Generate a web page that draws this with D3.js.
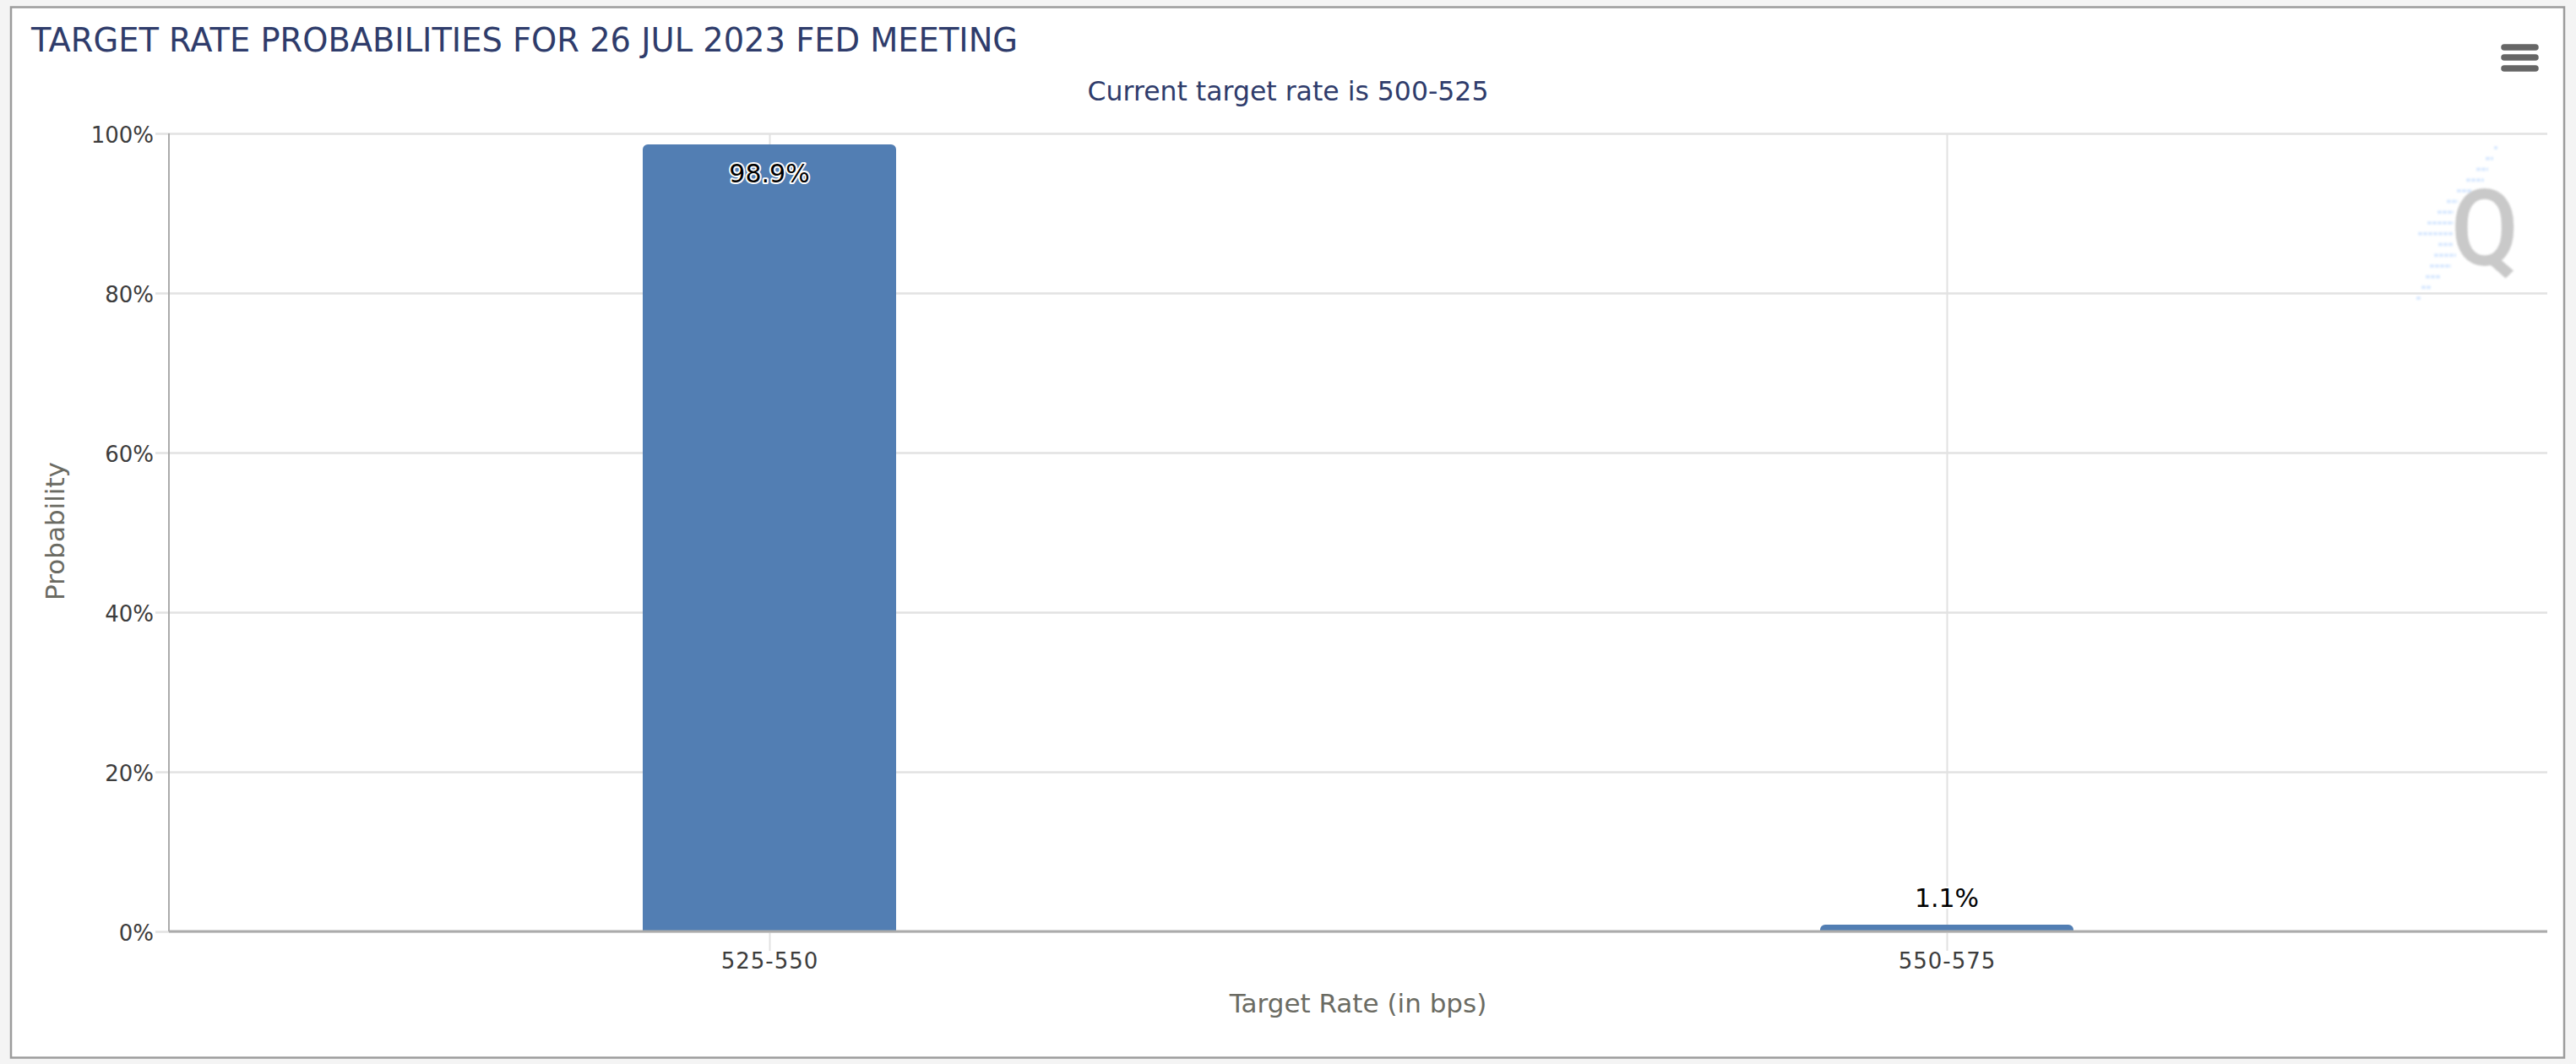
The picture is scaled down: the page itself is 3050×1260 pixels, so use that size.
<!DOCTYPE html>
<html>
<head>
<meta charset="utf-8">
<title>Target rate probabilities</title>
<script src="https://cdn.jsdelivr.net/npm/d3@7"></script>
<style>
	body { margin: 0; background: #f4f4f4; }
	svg { display: block; }
	text { font-family: "DejaVu Sans", sans-serif; }
</style>
</head>
<body>
<svg class="chart" width="3050" height="1260"></svg>
<script>
// values
var categories = ["525-550", "550-575"];
var probabilities = [98.9, 1.1];
var valueLabels = ["98.9%", "1.1%"];
var yTicks = [0, 20, 40, 60, 80, 100];

var titleText = "TARGET RATE PROBABILITIES FOR 26 JUL 2023 FED MEETING",
	subtitleText = "Current target rate is 500-525",
	xTitleText = "Target Rate (in bps)",
	yTitleText = "Probability";

// watermark stripes behind the Q: left and right end of each row
var stripeLeft = [2953, 2943, 2932, 2920, 2909, 2897, 2886, 2874, 2863, 2887, 2882, 2877, 2872, 2867, 2861];
var stripeRight = [2957, 2952, 2946, 2941, 2927, 2910, 2905, 2905, 2905, 2905, 2908, 2902, 2889, 2878, 2867];

var navy = "#2f3c6b",
	barcolor = "#527eb3",
	gridcolor = "#e2e2e2",
	axiscolor = "#ababab",
	tickcolor = "#3c3c3c",
	titlecolor = "#6b6b63";

var svg = d3.select(".chart"),
	plotLeft = 200,
	plotRight = 3016,
	plotTop = 158,
	plotBottom = 1103;

var x = d3.scalePoint()
	.domain(categories)
	.range([911, 2305]);
var y = d3.scaleLinear()
	.domain([0, 100])
	.range([plotBottom, plotTop]);

var barWidth = 300,
	barRadius = 6,
	barInset = 2.5;

// frame
svg.append("rect")
	.attr("x", 13)
	.attr("y", 8.5)
	.attr("width", 3023)
	.attr("height", 1244)
	.attr("fill", "#fff")
	.attr("stroke", "#9c9c9c")
	.attr("stroke-width", 2.5);

// watermark
var logo = svg.append("g").style("filter", "blur(0.8px)");
logo.selectAll("line")
	.data(stripeLeft)
	.enter().append("line")
	.attr("x1", function(d) { return d; })
	.attr("x2", function(d, i) { return stripeRight[i]; })
	.attr("y1", function(d, i) { return 175 + i * 12.72; })
	.attr("y2", function(d, i) { return 175 + i * 12.72; })
	.attr("stroke", "#dcebff")
	.attr("stroke-width", 4)
	.attr("stroke-dasharray", "5 1");
logo.append("text")
	.attr("transform", "translate(2942,314) scale(0.92,1)")
	.attr("text-anchor", "middle")
	.attr("fill", "#c9c9c9")
	.style("font-family", "Roboto")
	.style("font-weight", 500)
	.style("font-size", "127px")
	.text("Q");

// grid
var gridY = svg.append("g")
	.attr("transform", "translate(" + plotLeft + ",0)")
	.call(d3.axisLeft(y).tickValues(yTicks).tickSize(16).tickFormat(""));
gridY.select(".domain").remove();
gridY.selectAll("line")
	.attr("x2", plotRight - plotLeft)
	.attr("x1", -16)
	.attr("stroke", gridcolor)
	.attr("stroke-width", 2.5);

var gridX = svg.append("g")
	.attr("transform", "translate(0," + plotTop + ")")
	.call(d3.axisBottom(x).tickSize(plotBottom - plotTop + 23).tickFormat(""));
gridX.select(".domain").remove();
gridX.selectAll("line")
	.attr("stroke", gridcolor)
	.attr("stroke-width", 2);

// bars, rounded on top only
function barPath(d, i) {
	var p = d3.path(),
		x0 = x(categories[i]) - barWidth / 2,
		x1 = x0 + barWidth,
		y0 = y(d) + barInset;
	p.moveTo(x0, plotBottom);
	p.lineTo(x0, y0 + barRadius);
	p.arcTo(x0, y0, x0 + barRadius, y0, barRadius);
	p.lineTo(x1 - barRadius, y0);
	p.arcTo(x1, y0, x1, y0 + barRadius, barRadius);
	p.lineTo(x1, plotBottom);
	p.closePath();
	return p.toString();
}
svg.append("g").selectAll("path")
	.data(probabilities)
	.enter().append("path")
	.attr("d", barPath)
	.attr("fill", barcolor);

// axes
svg.append("line")
	.attr("x1", plotLeft)
	.attr("x2", plotLeft)
	.attr("y1", plotTop)
	.attr("y2", plotBottom)
	.attr("stroke", axiscolor)
	.attr("stroke-width", 2);
svg.append("line")
	.attr("x1", plotLeft)
	.attr("x2", plotRight)
	.attr("y1", plotBottom)
	.attr("y2", plotBottom)
	.attr("stroke", axiscolor)
	.attr("stroke-width", 3);

var leftAxis = svg.append("g")
	.attr("transform", "translate(" + plotLeft + ",0)")
	.call(d3.axisLeft(y).tickValues(yTicks).tickSize(0).tickPadding(18).tickFormat(function(d) { return d + "%"; }));
leftAxis.select(".domain").remove();
leftAxis.selectAll("text")
	.attr("dy", "0.4em")
	.style("font-size", "26px")
	.style("fill", tickcolor);

var bottomAxis = svg.append("g")
	.attr("transform", "translate(0," + plotBottom + ")")
	.call(d3.axisBottom(x).tickSize(0).tickPadding(26));
bottomAxis.select(".domain").remove();
bottomAxis.selectAll("text")
	.attr("dy", "0.71em")
	.style("font-size", "26px")
	.style("letter-spacing", "1px")
	.style("fill", tickcolor);

// value labels
svg.append("g").selectAll("text")
	.data(probabilities)
	.enter().append("text")
	.attr("x", function(d, i) { return x(categories[i]); })
	.attr("y", function(d, i) { return i == 0 ? y(d) + 34 + barInset : y(d) - 29; })
	.attr("dy", "0.36em")
	.attr("text-anchor", "middle")
	.attr("fill", "#000")
	.attr("stroke", "#fff")
	.attr("stroke-width", 4)
	.attr("stroke-linejoin", "round")
	.attr("paint-order", "stroke")
	.style("font-size", "30px")
	.text(function(d, i) { return valueLabels[i]; });

// titles
svg.append("text")
	.attr("x", 37)
	.attr("y", 61)
	.attr("fill", navy)
	.style("font-size", "38.4px")
	.text(titleText);
svg.append("text")
	.attr("x", 1525)
	.attr("y", 119)
	.attr("text-anchor", "middle")
	.attr("fill", navy)
	.style("font-size", "31.5px")
	.text(subtitleText);
svg.append("text")
	.attr("x", 1608)
	.attr("y", 1199)
	.attr("text-anchor", "middle")
	.attr("fill", titlecolor)
	.style("font-size", "31px")
	.text(xTitleText);
svg.append("text")
	.attr("transform", "translate(76,629) rotate(-90)")
	.attr("text-anchor", "middle")
	.attr("fill", titlecolor)
	.style("font-size", "31px")
	.text(yTitleText);

// menu icon
svg.append("g").selectAll("line")
	.data([56, 68, 81])
	.enter().append("line")
	.attr("x1", 2965)
	.attr("x2", 3002)
	.attr("y1", function(d) { return d; })
	.attr("y2", function(d) { return d; })
	.attr("stroke", "#666")
	.attr("stroke-width", 7.5)
	.attr("stroke-linecap", "round");
</script>
</body>
</html>
